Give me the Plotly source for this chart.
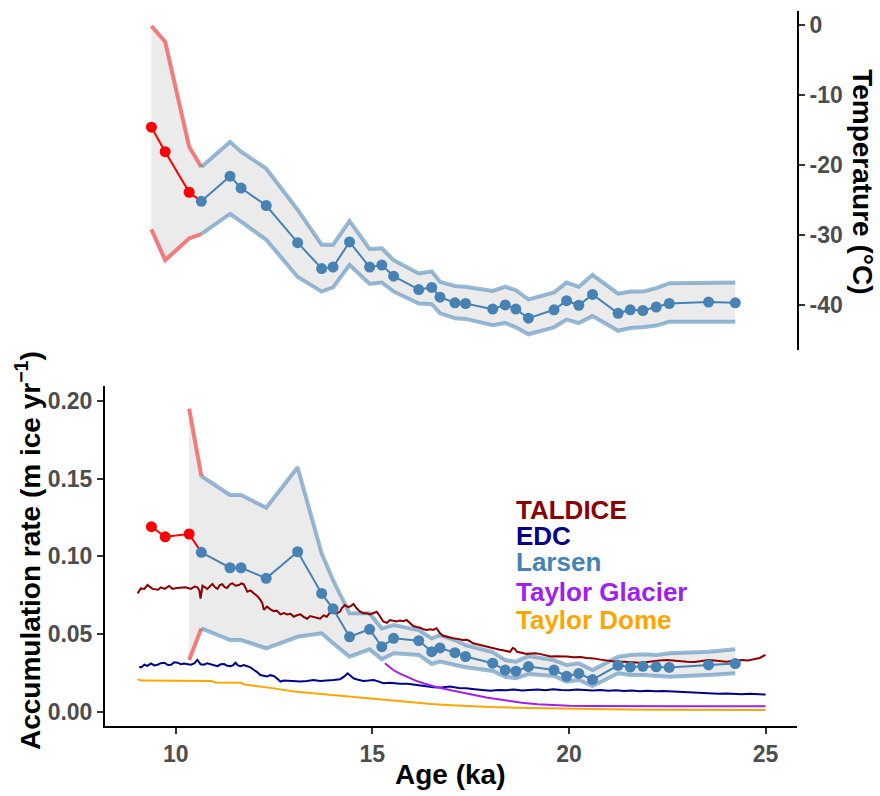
import plotly.graph_objects as go

# ---------------- Larsen reconstruction ----------------
red_age = [9.38, 9.73, 10.34]
red_temp = [-14.6, -18.1, -23.9]
red_temp_hi = [-0.14, -2.4, -17.4]
red_temp_lo = [-29.2, -33.6, -30.5]
red_acc = [0.119, 0.1125, 0.1143]
red_acc_band_age = [10.34]
red_acc_hi = [0.195]
red_acc_lo = [0.0332]

lar_age = [10.65, 11.38, 11.66, 12.30, 13.10, 13.71, 14.00, 14.42, 14.93, 15.24,
           15.54, 16.18, 16.51, 16.72, 17.10, 17.37, 18.06, 18.38, 18.65, 18.97,
           19.62, 19.94, 20.25, 20.60, 21.25, 21.56, 21.88, 22.22, 22.55, 23.55, 24.23]
lar_temp = [-25.2, -21.6, -23.3, -25.8, -31.1, -34.8, -34.6, -31.0, -34.6, -34.3,
            -35.9, -37.8, -37.5, -38.9, -39.7, -39.8, -40.6, -40.0, -40.6, -41.9,
            -40.7, -39.4, -40.05, -38.5, -41.2, -40.7, -40.8, -40.3, -39.8, -39.6, -39.7]
lar_temp_hi = [-20.3, -16.7, -18.1, -20.5, -26.4, -31.4, -31.4, -28.0, -32.0, -31.9,
               -33.6, -35.5, -35.2, -36.7, -37.3, -37.4, -38.0, -37.4, -37.9, -39.2,
               -38.2, -36.8, -37.4, -35.7, -38.4, -38.1, -38.1, -37.6, -36.9, -36.8, -36.8]
lar_temp_lo = [-29.9, -27.0, -28.1, -30.7, -36.0, -38.1, -37.5, -34.3, -37.0, -36.8,
               -38.1, -39.8, -39.9, -41.2, -41.9, -42.0, -42.9, -42.6, -43.2, -44.2,
               -43.2, -42.1, -42.6, -41.6, -43.7, -43.3, -43.2, -42.95, -42.4, -42.4, -42.4]
lar_acc = [0.1025, 0.0926, 0.0926, 0.0858, 0.1029, 0.0761, 0.0662, 0.0482, 0.0530, 0.0418,
           0.0472, 0.0457, 0.0386, 0.0410, 0.0380, 0.0355, 0.0312, 0.0268, 0.0261, 0.0290,
           0.0268, 0.0228, 0.0246, 0.0207, 0.0298, 0.0287, 0.0292, 0.0289, 0.0285, 0.0301, 0.0310]
lar_acc_hi = [0.1516, 0.1394, 0.1394, 0.1312, 0.1572, 0.1019, 0.0847, 0.0633, 0.0633, 0.0536,
              0.0557, 0.0525, 0.0472, 0.0493, 0.0461, 0.0429, 0.0383, 0.0332, 0.0322, 0.0358,
              0.0332, 0.0300, 0.0311, 0.0268, 0.0354, 0.0365, 0.0369, 0.0365, 0.0376, 0.0386, 0.0401]
lar_acc_lo = [0.0536, 0.0461, 0.0461, 0.0408, 0.0482, 0.0504, 0.0440, 0.0354, 0.0401, 0.0337,
              0.0376, 0.0365, 0.0307, 0.0322, 0.0300, 0.0286, 0.0262, 0.0225, 0.0215, 0.0242,
              0.0230, 0.0193, 0.0204, 0.0165, 0.0247, 0.0236, 0.0236, 0.0230, 0.0225, 0.0236, 0.0247]

# ---------------- other records ----------------
taldice_age = [9.03, 9.11, 9.20, 9.28, 9.41, 9.55, 9.62, 9.72, 9.83, 9.92, 10.02, 10.13, 10.25,
               10.38, 10.48, 10.55, 10.60, 10.63, 10.68, 10.80, 10.87, 10.93, 11.00, 11.06, 11.12,
               11.18, 11.25, 11.31, 11.38, 11.44, 11.52, 11.61, 11.67, 11.73, 11.82, 11.90, 11.99,
               12.07, 12.15, 12.20, 12.24, 12.32, 12.40, 12.49, 12.57, 12.66, 12.75, 12.83, 12.92,
               13.00, 13.08, 13.17, 13.25, 13.34, 13.42, 13.50, 13.58, 13.67, 13.76, 13.84, 13.93,
               14.01, 14.10, 14.18, 14.22, 14.30, 14.39, 14.46, 14.52, 14.60, 14.69, 14.77, 14.86,
               14.94, 15.03, 15.11, 15.20, 15.28, 15.37, 15.45, 15.53, 15.62, 15.70, 15.78, 15.87,
               15.95, 16.04, 16.13, 16.22, 16.30, 16.38, 16.47, 16.55, 16.63, 16.72, 16.80, 16.90,
               16.97, 17.05, 17.14, 17.22, 17.30, 17.40, 17.47, 17.56, 17.64, 17.73, 17.81, 17.90,
               17.98, 18.07, 18.15, 18.24, 18.32, 18.42, 18.50, 18.57, 18.62, 18.68, 18.74, 18.85,
               18.93, 19.05, 19.15, 19.25, 19.40, 19.53, 19.65, 19.80, 19.95, 20.12, 20.30, 20.45,
               20.63, 20.80, 21.00, 21.20, 21.40, 21.60, 21.80, 21.95, 22.10, 22.30, 22.50, 22.70,
               22.85, 23.00, 23.20, 23.40, 23.55, 23.70, 23.85, 24.00, 24.20, 24.40, 24.55, 24.75,
               24.85, 24.92, 25.00]
taldice_acc = [0.0761, 0.0793, 0.0790, 0.0815, 0.0790, 0.0785, 0.0800, 0.0790, 0.0809, 0.0790,
               0.0795, 0.0797, 0.0800, 0.0790, 0.0805, 0.0800, 0.0780, 0.0727, 0.0810, 0.0790,
               0.0805, 0.0822, 0.0800, 0.0790, 0.0815, 0.0820, 0.0800, 0.0797, 0.0820, 0.0826,
               0.0810, 0.0815, 0.0825, 0.0820, 0.0772, 0.0780, 0.0760, 0.0745, 0.0719, 0.0700,
               0.0655, 0.0676, 0.0660, 0.0647, 0.0650, 0.0626, 0.0635, 0.0626, 0.0630, 0.0611,
               0.0620, 0.0626, 0.0610, 0.0598, 0.0615, 0.0611, 0.0605, 0.0598, 0.0620, 0.0611,
               0.0640, 0.0633, 0.0633, 0.0644, 0.0665, 0.0686, 0.0672, 0.0680, 0.0693, 0.0665,
               0.0643, 0.0633, 0.0633, 0.0626, 0.0635, 0.0643, 0.0611, 0.0579, 0.0572, 0.0590,
               0.0585, 0.0580, 0.0586, 0.0582, 0.0590, 0.0570, 0.0551, 0.0545, 0.0540, 0.0530,
               0.0525, 0.0530, 0.0526, 0.0537, 0.0505, 0.0488, 0.0480, 0.0478, 0.0472, 0.0470,
               0.0465, 0.0461, 0.0462, 0.0455, 0.0440, 0.0435, 0.0429, 0.0425, 0.0420, 0.0410,
               0.0405, 0.0401, 0.0398, 0.0395, 0.0392, 0.0385, 0.0410, 0.0405, 0.0385, 0.0382,
               0.0380, 0.0372, 0.0375, 0.0376, 0.0372, 0.0365, 0.0355, 0.0357, 0.0358, 0.0355,
               0.0350, 0.0352, 0.0345, 0.0343, 0.0335, 0.0328, 0.0322, 0.0322, 0.0318, 0.0315,
               0.0318, 0.0325, 0.0330, 0.0332, 0.0328, 0.0322, 0.0322, 0.0320, 0.0328, 0.0332,
               0.0330, 0.0325, 0.0322, 0.0328, 0.0332, 0.0330, 0.0337, 0.0345, 0.0355, 0.0365]

edc_age = [9.07, 9.12, 9.20, 9.28, 9.37, 9.45, 9.54, 9.62, 9.71, 9.80, 9.88, 9.96, 10.05, 10.13,
           10.21, 10.30, 10.38, 10.47, 10.55, 10.63, 10.72, 10.80, 10.89, 10.97, 11.06, 11.14,
           11.23, 11.31, 11.40, 11.46, 11.52, 11.58, 11.65, 11.73, 11.82, 11.90, 11.99, 12.07,
           12.15, 12.24, 12.32, 12.40, 12.49, 12.57, 12.66, 12.75, 12.83, 13.00, 13.17, 13.34,
           13.50, 13.67, 13.84, 14.01, 14.18, 14.28, 14.37, 14.45, 14.52, 14.64, 14.77, 14.90,
           15.03, 15.15, 15.28, 15.45, 15.70, 15.90, 16.13, 16.35, 16.55, 16.75, 16.97, 17.20,
           17.39, 17.60, 17.81, 18.00, 18.20, 18.40, 18.60, 18.80, 19.00, 19.20, 19.40, 19.60,
           19.80, 20.00, 20.20, 20.40, 20.60, 20.80, 21.00, 21.20, 21.40, 21.60, 21.80, 22.00,
           22.20, 22.40, 22.60, 22.80, 23.00, 23.20, 23.40, 23.60, 23.80, 24.00, 24.20, 24.40,
           24.60, 24.80, 25.00]
edc_acc = [0.0290, 0.0285, 0.0302, 0.0295, 0.0310, 0.0298, 0.0302, 0.0312, 0.0315, 0.0300,
           0.0302, 0.0318, 0.0315, 0.0305, 0.0310, 0.0305, 0.0302, 0.0310, 0.0334, 0.0305,
           0.0302, 0.0312, 0.0306, 0.0298, 0.0293, 0.0305, 0.0306, 0.0295, 0.0293, 0.0300,
           0.0315, 0.0298, 0.0293, 0.0300, 0.0293, 0.0285, 0.0268, 0.0255, 0.0236, 0.0232,
           0.0226, 0.0235, 0.0230, 0.0215, 0.0194, 0.0200, 0.0198, 0.0196, 0.0194, 0.0198,
           0.0204, 0.0198, 0.0200, 0.0204, 0.0209, 0.0225, 0.0247, 0.0228, 0.0215, 0.0205,
           0.0198, 0.0200, 0.0204, 0.0195, 0.0183, 0.0186, 0.0179, 0.0180, 0.0172, 0.0165,
           0.0157, 0.0155, 0.0162, 0.0152, 0.0151, 0.0145, 0.0140, 0.0135, 0.0140, 0.0138,
           0.0142, 0.0136, 0.0140, 0.0143, 0.0138, 0.0144, 0.0140, 0.0138, 0.0143, 0.0140,
           0.0137, 0.0140, 0.0135, 0.0138, 0.0133, 0.0136, 0.0132, 0.0135, 0.0131, 0.0133,
           0.0130, 0.0127, 0.0125, 0.0122, 0.0120, 0.0118, 0.0116, 0.0117, 0.0114, 0.0113,
           0.0116, 0.0112, 0.0110]

tgl_age = [15.32, 15.42, 15.53, 15.70, 15.87, 16.10, 16.30, 16.60, 16.97, 17.30, 17.60, 17.90,
           18.20, 18.50, 18.80, 19.20, 19.60, 20.00, 20.50, 21.00, 22.00, 23.00, 24.00, 25.00]
tgl_acc = [0.0311, 0.0290, 0.0268, 0.0245, 0.0225, 0.0200, 0.0183, 0.0160, 0.0140, 0.0122,
           0.0107, 0.0092, 0.0080, 0.0068, 0.0058, 0.0048, 0.0042, 0.0038, 0.0036, 0.0035,
           0.0035, 0.0035, 0.0035, 0.0035]

tdome_age = [9.03, 9.12, 10.0, 10.9, 11.0, 11.65, 11.75, 12.3, 12.5, 13.0, 13.5, 14.0, 14.5,
             15.0, 15.5, 16.0, 16.5, 17.0, 17.5, 18.0, 19.0, 20.0, 21.0, 22.0, 23.0, 24.0, 25.0]
tdome_acc = [0.0210, 0.0200, 0.0199, 0.0198, 0.0188, 0.0186, 0.0175, 0.0160, 0.0150, 0.0130,
             0.0118, 0.0110, 0.0097, 0.0083, 0.0070, 0.0060, 0.0050, 0.0042, 0.0036, 0.0030,
             0.0024, 0.0018, 0.0015, 0.0013, 0.0012, 0.0011, 0.0011]

legend_labels = ["TALDICE", "EDC", "Larsen", "Taylor Glacier", "Taylor Dome"]
legend_y = [0.1297, 0.1133, 0.0963, 0.0772, 0.0593]
legend_x = 18.59

x_ticks = [10, 15, 20, 25]
acc_ticks = [0.0, 0.05, 0.10, 0.15, 0.20]
acc_ticktext = ["0.00", "0.05", "0.10", "0.15", "0.20"]
temp_ticks = [0, -10, -20, -30, -40]
temp_ticktext = ["0", "-10", "-20", "-30", "-40"]

# ---------------- styles ----------------
STEEL = "#4682B4"
RED = "#FF0000"
BAND_BLUE = "rgba(70,130,180,0.55)"
BAND_RED = "#F27C7C"
FILL = "#EBEBEB"
FONT = "Liberation Sans"
TICKCOL = "#4D4D4D"

fig = go.Figure()


def add_band(xa, ya, r_age, r_hi, r_lo, b_age, b_hi, b_lo):
    ages = list(r_age) + list(b_age)
    hi = list(r_hi) + list(b_hi)
    lo = list(r_lo) + list(b_lo)
    fig.add_trace(go.Scatter(x=ages + ages[::-1], y=hi + lo[::-1], fill="toself",
                             fillcolor=FILL, line=dict(width=0), mode="lines",
                             hoverinfo="skip", showlegend=False, xaxis=xa, yaxis=ya))
    for rr, bb in ((r_hi, b_hi), (r_lo, b_lo)):
        fig.add_trace(go.Scatter(x=list(r_age) + [b_age[0]], y=list(rr) + [bb[0]], mode="lines",
                                 line=dict(color=BAND_RED, width=4), showlegend=False,
                                 xaxis=xa, yaxis=ya))
        fig.add_trace(go.Scatter(x=b_age, y=bb, mode="lines",
                                 line=dict(color=BAND_BLUE, width=4), showlegend=False,
                                 xaxis=xa, yaxis=ya))


def add_series(xa, ya, vals_red, vals_blue):
    fig.add_trace(go.Scatter(x=red_age + [lar_age[0]], y=vals_red + [vals_blue[0]], mode="lines",
                             line=dict(color=RED, width=2), showlegend=False, xaxis=xa, yaxis=ya))
    fig.add_trace(go.Scatter(x=lar_age, y=vals_blue, mode="lines+markers",
                             line=dict(color=STEEL, width=2), marker=dict(color=STEEL, size=11),
                             showlegend=False, xaxis=xa, yaxis=ya))
    fig.add_trace(go.Scatter(x=red_age, y=vals_red, mode="markers",
                             marker=dict(color=RED, size=11), showlegend=False, xaxis=xa, yaxis=ya))


# top panel (temperature)
add_band("x2", "y2", red_age, red_temp_hi, red_temp_lo, lar_age, lar_temp_hi, lar_temp_lo)
add_series("x2", "y2", red_temp, lar_temp)

# bottom panel (accumulation)
add_band("x", "y", red_acc_band_age, red_acc_hi, red_acc_lo, lar_age, lar_acc_hi, lar_acc_lo)
for ages, vals, col in ((taldice_age, taldice_acc, "#8B0000"),
                        (edc_age, edc_acc, "#00008B"),
                        (tgl_age, tgl_acc, "#A020F0"),
                        (tdome_age, tdome_acc, "#FFA500")):
    fig.add_trace(go.Scatter(x=ages, y=vals, mode="lines", line=dict(color=col, width=2),
                             showlegend=False, xaxis="x", yaxis="y"))
add_series("x", "y", red_acc, lar_acc)

legend_colors = ["#8B0000", "#00008B", STEEL, "#A020F0", "#FFA500"]
annotations = []
for lab, yy, col in zip(legend_labels, legend_y, legend_colors):
    annotations.append(dict(x=legend_x, y=yy, xref="x", yref="y", text=lab, showarrow=False,
                            xanchor="left", yanchor="middle",
                            font=dict(family=FONT, size=26, color=col, weight="bold")))

title_font = dict(family=FONT, size=28, color="black", weight="bold")
annotations += [
    dict(x=-0.1113, y=0.246, xref="paper", yref="paper", showarrow=False, textangle=-90,
         text="Accumulation rate (m ice yr<sup>−1</sup>)", xanchor="center", yanchor="middle",
         font=title_font),
    dict(x=0.4986, y=-0.0685, xref="paper", yref="paper", showarrow=False,
         text="Age (ka)", xanchor="center", yanchor="middle", font=title_font),
    dict(x=1.0954, y=0.762, xref="paper", yref="paper", showarrow=False, textangle=90,
         text="Temperature (°C)", xanchor="center", yanchor="middle", font=title_font),
]

tick_font = dict(family=FONT, size=23, color=TICKCOL, weight="bold")
axis_common = dict(showgrid=False, zeroline=False, showline=True, linecolor="black",
                   linewidth=2, ticks="outside", ticklen=6, tickwidth=1.5, tickcolor="#333333",
                   tickfont=tick_font, automargin=False)

fig.update_layout(
    width=880, height=796,
    margin=dict(l=105, r=83, t=11, b=70),
    paper_bgcolor="white", plot_bgcolor="white",
    showlegend=False,
    xaxis=dict(domain=[0, 1], range=[8.2, 25.8], tickvals=x_ticks, anchor="y", **axis_common),
    yaxis=dict(domain=[0, 0.4755], range=[-0.0092, 0.2095], tickvals=acc_ticks,
               ticktext=acc_ticktext, anchor="x", **axis_common),
    xaxis2=dict(domain=[0, 1], range=[8.2, 25.8], visible=False, anchor="y2"),
    yaxis2=dict(domain=[0.526, 1], range=[-46.43, 2.0], tickvals=temp_ticks,
                ticktext=temp_ticktext, side="right", anchor="x2", **axis_common),
    annotations=annotations,
)

fig.write_html("out.html",
               config={"displayModeBar": False},
               post_script="document.body.style.margin='0px';"
                           "document.body.style.overflow='hidden';")
